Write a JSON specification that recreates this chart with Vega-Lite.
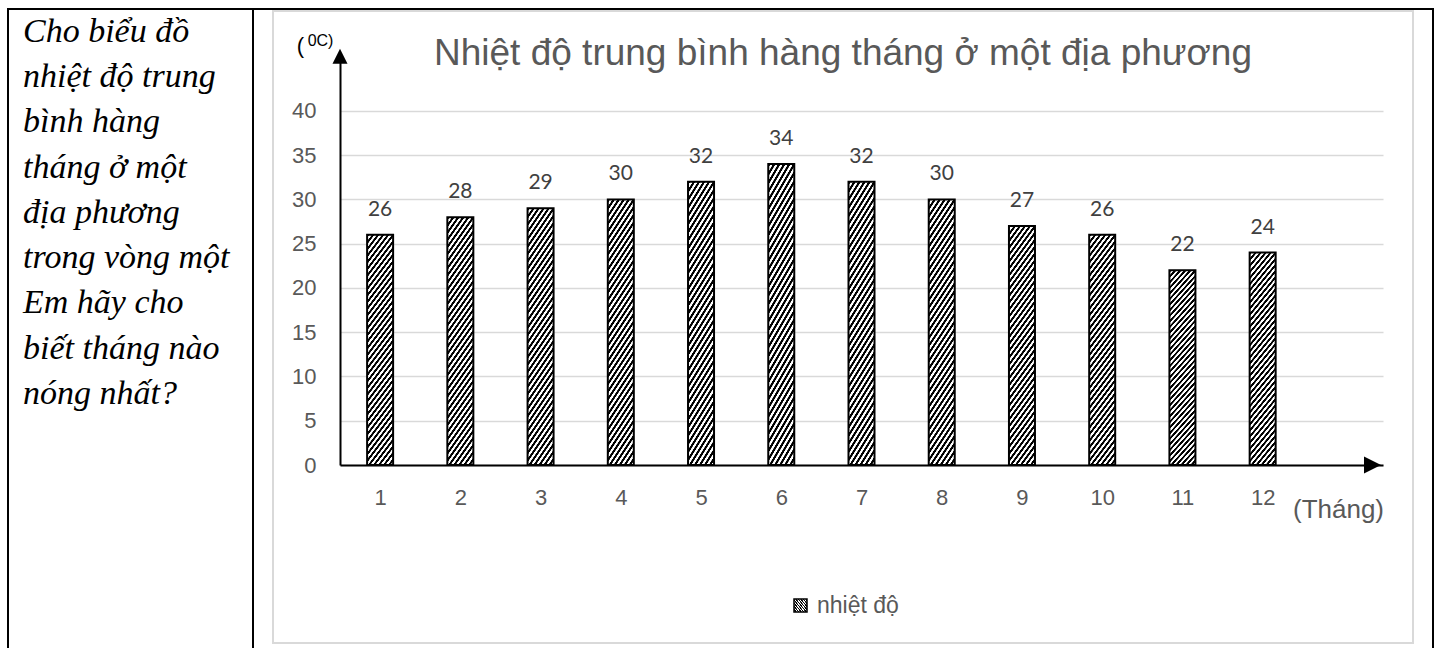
{
  "$schema": "https://vega.github.io/schema/vega-lite/v6.json",
  "background": "white",
  "padding": {"left": 7, "top": 8, "right": 0, "bottom": 0},
  "spacing": 0,
  "bounds": "flush",
  "config": {"view": {"stroke": null}},
  "hconcat": [
    {
      "width": 245,
      "height": 645,
      "view": {"stroke": "black", "strokeWidth": 2},
      "data": {"values": [
        {"line": 1, "text": "Cho biểu đồ"},
        {"line": 2, "text": "nhiệt độ trung"},
        {"line": 3, "text": "bình hàng"},
        {"line": 4, "text": "tháng ở một"},
        {"line": 5, "text": "địa phương"},
        {"line": 6, "text": "trong vòng một"},
        {"line": 7, "text": "Em hãy cho"},
        {"line": 8, "text": "biết tháng nào"},
        {"line": 9, "text": "nóng nhất?"}
      ]},
      "mark": {"type": "text", "align": "left", "baseline": "alphabetic", "font": "Liberation Serif", "fontStyle": "italic", "fontSize": 34, "color": "black", "dx": 15},
      "encoding": {
        "x": {"datum": 0, "type": "quantitative", "scale": {"domain": [0, 1], "nice": false, "zero": false}, "axis": null},
        "y": {"field": "line", "type": "quantitative", "scale": {"domain": [0.2707, 14.525], "reverse": true, "nice": false, "zero": false}, "axis": null},
        "text": {"field": "text"}
      }
    },
    {
      "width": 1180,
      "height": 645,
      "view": {"stroke": "black", "strokeWidth": 2},
      "title": {"text": "Nhiệt độ trung bình hàng tháng ở một địa phương", "font": "Liberation Sans", "fontSize": 37, "fontWeight": "normal", "color": "#595959", "anchor": "middle", "frame": "group", "offset": -93, "baseline": "alphabetic"},
      "data": {"values": [
        {"month": 1, "temp": 26, "series": "nhiệt độ"},
        {"month": 2, "temp": 28, "series": "nhiệt độ"},
        {"month": 3, "temp": 29, "series": "nhiệt độ"},
        {"month": 4, "temp": 30, "series": "nhiệt độ"},
        {"month": 5, "temp": 32, "series": "nhiệt độ"},
        {"month": 6, "temp": 34, "series": "nhiệt độ"},
        {"month": 7, "temp": 32, "series": "nhiệt độ"},
        {"month": 8, "temp": 30, "series": "nhiệt độ"},
        {"month": 9, "temp": 27, "series": "nhiệt độ"},
        {"month": 10, "temp": 26, "series": "nhiệt độ"},
        {"month": 11, "temp": 22, "series": "nhiệt độ"},
        {"month": 12, "temp": 24, "series": "nhiệt độ"}
      ]},
      "layer": [
        {
          "data": {"values": [{}]},
          "mark": {"type": "rect", "filled": false, "stroke": "#d9d9d9", "strokeWidth": 2},
          "encoding": {
            "x": {"datum": -0.335, "type": "quantitative", "scale": {"domain": [0.5, 13.5], "range": [87, 1130], "padding": 0, "nice": false, "zero": false}},
            "x2": {"datum": 13.874},
            "y": {"datum": 51.3, "type": "quantitative", "scale": {"domain": [0, 46.3], "range": [456, 46.2], "padding": 0, "nice": false, "zero": false}},
            "y2": {"datum": -20.11}
          }
        },
        {
          "mark": {"type": "bar", "width": 26, "strokeWidth": 2,
            "fill": {"gradient": "linear", "x1": 0, "y1": 0, "x2": 0.1675, "y2": 1.124, "stops": [
{"offset":0,"color":"#000"},{"offset":0.01,"color":"#000"},{"offset":0.0125,"color":"#fff"},{"offset":0.0225,"color":"#fff"},
{"offset":0.025,"color":"#000"},{"offset":0.035,"color":"#000"},{"offset":0.0375,"color":"#fff"},{"offset":0.0475,"color":"#fff"},
{"offset":0.05,"color":"#000"},{"offset":0.06,"color":"#000"},{"offset":0.0625,"color":"#fff"},{"offset":0.0725,"color":"#fff"},
{"offset":0.075,"color":"#000"},{"offset":0.085,"color":"#000"},{"offset":0.0875,"color":"#fff"},{"offset":0.0975,"color":"#fff"},
{"offset":0.1,"color":"#000"},{"offset":0.11,"color":"#000"},{"offset":0.1125,"color":"#fff"},{"offset":0.1225,"color":"#fff"},
{"offset":0.125,"color":"#000"},{"offset":0.135,"color":"#000"},{"offset":0.1375,"color":"#fff"},{"offset":0.1475,"color":"#fff"},
{"offset":0.15,"color":"#000"},{"offset":0.16,"color":"#000"},{"offset":0.1625,"color":"#fff"},{"offset":0.1725,"color":"#fff"},
{"offset":0.175,"color":"#000"},{"offset":0.185,"color":"#000"},{"offset":0.1875,"color":"#fff"},{"offset":0.1975,"color":"#fff"},
{"offset":0.2,"color":"#000"},{"offset":0.21,"color":"#000"},{"offset":0.2125,"color":"#fff"},{"offset":0.2225,"color":"#fff"},
{"offset":0.225,"color":"#000"},{"offset":0.235,"color":"#000"},{"offset":0.2375,"color":"#fff"},{"offset":0.2475,"color":"#fff"},
{"offset":0.25,"color":"#000"},{"offset":0.26,"color":"#000"},{"offset":0.2625,"color":"#fff"},{"offset":0.2725,"color":"#fff"},
{"offset":0.275,"color":"#000"},{"offset":0.285,"color":"#000"},{"offset":0.2875,"color":"#fff"},{"offset":0.2975,"color":"#fff"},
{"offset":0.3,"color":"#000"},{"offset":0.31,"color":"#000"},{"offset":0.3125,"color":"#fff"},{"offset":0.3225,"color":"#fff"},
{"offset":0.325,"color":"#000"},{"offset":0.335,"color":"#000"},{"offset":0.3375,"color":"#fff"},{"offset":0.3475,"color":"#fff"},
{"offset":0.35,"color":"#000"},{"offset":0.36,"color":"#000"},{"offset":0.3625,"color":"#fff"},{"offset":0.3725,"color":"#fff"},
{"offset":0.375,"color":"#000"},{"offset":0.385,"color":"#000"},{"offset":0.3875,"color":"#fff"},{"offset":0.3975,"color":"#fff"},
{"offset":0.4,"color":"#000"},{"offset":0.41,"color":"#000"},{"offset":0.4125,"color":"#fff"},{"offset":0.4225,"color":"#fff"},
{"offset":0.425,"color":"#000"},{"offset":0.435,"color":"#000"},{"offset":0.4375,"color":"#fff"},{"offset":0.4475,"color":"#fff"},
{"offset":0.45,"color":"#000"},{"offset":0.46,"color":"#000"},{"offset":0.4625,"color":"#fff"},{"offset":0.4725,"color":"#fff"},
{"offset":0.475,"color":"#000"},{"offset":0.485,"color":"#000"},{"offset":0.4875,"color":"#fff"},{"offset":0.4975,"color":"#fff"},
{"offset":0.5,"color":"#000"},{"offset":0.51,"color":"#000"},{"offset":0.5125,"color":"#fff"},{"offset":0.5225,"color":"#fff"},
{"offset":0.525,"color":"#000"},{"offset":0.535,"color":"#000"},{"offset":0.5375,"color":"#fff"},{"offset":0.5475,"color":"#fff"},
{"offset":0.55,"color":"#000"},{"offset":0.56,"color":"#000"},{"offset":0.5625,"color":"#fff"},{"offset":0.5725,"color":"#fff"},
{"offset":0.575,"color":"#000"},{"offset":0.585,"color":"#000"},{"offset":0.5875,"color":"#fff"},{"offset":0.5975,"color":"#fff"},
{"offset":0.6,"color":"#000"},{"offset":0.61,"color":"#000"},{"offset":0.6125,"color":"#fff"},{"offset":0.6225,"color":"#fff"},
{"offset":0.625,"color":"#000"},{"offset":0.635,"color":"#000"},{"offset":0.6375,"color":"#fff"},{"offset":0.6475,"color":"#fff"},
{"offset":0.65,"color":"#000"},{"offset":0.66,"color":"#000"},{"offset":0.6625,"color":"#fff"},{"offset":0.6725,"color":"#fff"},
{"offset":0.675,"color":"#000"},{"offset":0.685,"color":"#000"},{"offset":0.6875,"color":"#fff"},{"offset":0.6975,"color":"#fff"},
{"offset":0.7,"color":"#000"},{"offset":0.71,"color":"#000"},{"offset":0.7125,"color":"#fff"},{"offset":0.7225,"color":"#fff"},
{"offset":0.725,"color":"#000"},{"offset":0.735,"color":"#000"},{"offset":0.7375,"color":"#fff"},{"offset":0.7475,"color":"#fff"},
{"offset":0.75,"color":"#000"},{"offset":0.76,"color":"#000"},{"offset":0.7625,"color":"#fff"},{"offset":0.7725,"color":"#fff"},
{"offset":0.775,"color":"#000"},{"offset":0.785,"color":"#000"},{"offset":0.7875,"color":"#fff"},{"offset":0.7975,"color":"#fff"},
{"offset":0.8,"color":"#000"},{"offset":0.81,"color":"#000"},{"offset":0.8125,"color":"#fff"},{"offset":0.8225,"color":"#fff"},
{"offset":0.825,"color":"#000"},{"offset":0.835,"color":"#000"},{"offset":0.8375,"color":"#fff"},{"offset":0.8475,"color":"#fff"},
{"offset":0.85,"color":"#000"},{"offset":0.86,"color":"#000"},{"offset":0.8625,"color":"#fff"},{"offset":0.8725,"color":"#fff"},
{"offset":0.875,"color":"#000"},{"offset":0.885,"color":"#000"},{"offset":0.8875,"color":"#fff"},{"offset":0.8975,"color":"#fff"},
{"offset":0.9,"color":"#000"},{"offset":0.91,"color":"#000"},{"offset":0.9125,"color":"#fff"},{"offset":0.9225,"color":"#fff"},
{"offset":0.925,"color":"#000"},{"offset":0.935,"color":"#000"},{"offset":0.9375,"color":"#fff"},{"offset":0.9475,"color":"#fff"},
{"offset":0.95,"color":"#000"},{"offset":0.96,"color":"#000"},{"offset":0.9625,"color":"#fff"},{"offset":0.9725,"color":"#fff"},
{"offset":0.975,"color":"#000"},{"offset":0.985,"color":"#000"},{"offset":0.9875,"color":"#fff"},{"offset":0.9975,"color":"#fff"},
{"offset":1,"color":"#000"}
            ]}},
          "encoding": {
            "x": {"field": "month", "type": "quantitative",
              "scale": {"domain": [0.5, 13.5], "range": [87, 1130], "padding": 0, "nice": false, "zero": false},
              "axis": {"title": "(Tháng)", "values": [1,2,3,4,5,6,7,8,9,10,11,12], "format": "d", "offset": -189,
                "domainColor": "black", "domainWidth": 2, "ticks": false, "tickSize": 0, "labelPadding": 22,
                "labelFont": "Liberation Sans", "labelFontSize": 22, "labelColor": "#595959", "labelAngle": 0,
                "labelFlush": false, "labelOverlap": false, "grid": false,
                "titleFont": "Liberation Sans", "titleFontSize": 26, "titleFontWeight": "normal", "titleColor": "#595959",
                "titleX": 1085, "titleY": 52, "titleAlign": "center", "titleBaseline": "alphabetic"}},
            "y": {"field": "temp", "type": "quantitative",
              "scale": {"domain": [0, 46.3], "range": [456, 46.2], "padding": 0, "nice": false, "zero": false},
              "axis": {"title": "(", "values": [0,5,10,15,20,25,30,35,40], "format": "d", "offset": -87,
                "domainColor": "black", "domainWidth": 2, "ticks": false, "tickSize": 0, "labelPadding": 24,
                "labelFont": "Liberation Sans", "labelFontSize": 22, "labelColor": "#595959",
                "grid": true, "gridColor": "#d9d9d9", "gridWidth": 1.5,
                "titleAngle": 0, "titleX": -40, "titleY": 43, "titleAlign": "center", "titleBaseline": "alphabetic",
                "titleFont": "Liberation Sans", "titleFontSize": 22, "titleFontWeight": "normal", "titleColor": "black"}},
            "stroke": {"field": "series", "type": "nominal",
              "scale": {"range": ["black"]},
              "legend": {"title": null, "orient": "none", "legendX": 781, "legendY": 585, "symbolType": "square", "symbolSize": 169,
                "symbolStrokeColor": "black", "symbolStrokeWidth": 1.5, "labelFont": "Liberation Sans", "labelFontSize": 23,
                "labelColor": "#595959", "labelOffset": 5, "padding": 0,
                "encode": {"symbols": {"update": {"stroke": {"value": "black"}, "fill": {"value": {"gradient": "linear", "x1": 0, "y1": 0, "x2": 1, "y2": 1, "stops": [
                  {"offset":0,"color":"#fff"},{"offset":0.2,"color":"#fff"},{"offset":0.22,"color":"#000"},{"offset":0.29,"color":"#000"},
                  {"offset":0.31,"color":"#fff"},{"offset":0.45,"color":"#fff"},{"offset":0.47,"color":"#000"},{"offset":0.54,"color":"#000"},
                  {"offset":0.56,"color":"#fff"},{"offset":0.7,"color":"#fff"},{"offset":0.72,"color":"#000"},{"offset":0.79,"color":"#000"},
                  {"offset":0.81,"color":"#fff"},{"offset":1,"color":"#fff"}]}}}}}}
            }
          }
        },
        {
          "mark": {"type": "text", "font": "Lato", "fontSize": 21, "color": "#404040", "baseline": "alphabetic", "dy": -19},
          "encoding": {
            "x": {"field": "month", "type": "quantitative", "scale": {"domain": [0.5, 13.5], "range": [87, 1130], "padding": 0, "nice": false, "zero": false}},
            "y": {"field": "temp", "type": "quantitative", "scale": {"domain": [0, 46.3], "range": [456, 46.2], "padding": 0, "nice": false, "zero": false}},
            "text": {"field": "temp", "type": "quantitative", "format": "d"}
          }
        },
        {
          "data": {"values": [{}]},
          "mark": {"type": "point", "shape": "M1,0L-1,-1L-1,1Z", "filled": true, "color": "black", "opacity": 1, "size": 289},
          "encoding": {
            "x": {"datum": 13.369, "type": "quantitative", "scale": {"domain": [0.5, 13.5], "range": [87, 1130], "padding": 0, "nice": false, "zero": false}},
            "y": {"datum": 0, "type": "quantitative", "scale": {"domain": [0, 46.3], "range": [456, 46.2], "padding": 0, "nice": false, "zero": false}}
          }
        },
        {
          "data": {"values": [{}]},
          "mark": {"type": "point", "shape": "M0,-1L1,1L-1,1Z", "filled": true, "color": "black", "opacity": 1, "size": 225},
          "encoding": {
            "x": {"datum": 0.5, "type": "quantitative", "scale": {"domain": [0.5, 13.5], "range": [87, 1130], "padding": 0, "nice": false, "zero": false}},
            "y": {"datum": 46.19, "type": "quantitative", "scale": {"domain": [0, 46.3], "range": [456, 46.2], "padding": 0, "nice": false, "zero": false}}
          }
        },
        {
          "data": {"values": [{"unit": "0C)"}]},
          "mark": {"type": "text", "font": "Liberation Sans", "fontSize": 16, "color": "black", "align": "left", "baseline": "alphabetic"},
          "encoding": {
            "x": {"datum": 0.097, "type": "quantitative", "scale": {"domain": [0.5, 13.5], "range": [87, 1130], "padding": 0, "nice": false, "zero": false}},
            "y": {"datum": 47.34, "type": "quantitative", "scale": {"domain": [0, 46.3], "range": [456, 46.2], "padding": 0, "nice": false, "zero": false}},
            "text": {"field": "unit"}
          }
        }
      ]
    }
  ]
}
